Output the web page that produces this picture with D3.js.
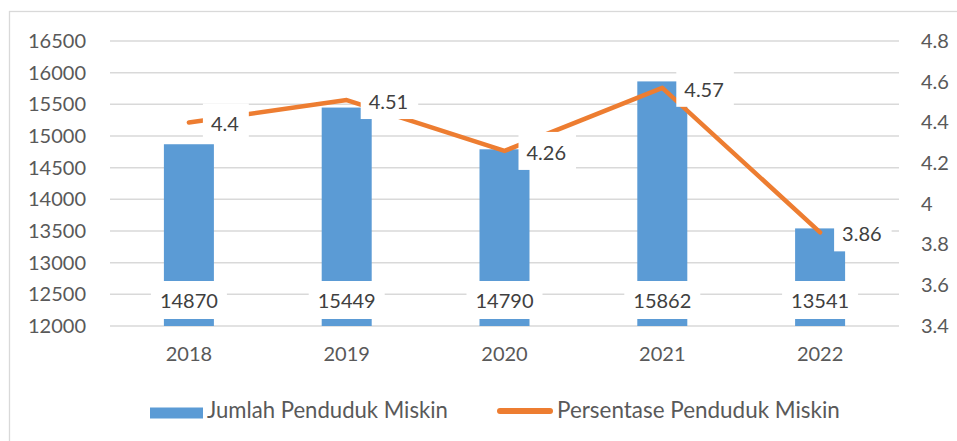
<!DOCTYPE html>
<html><head><meta charset="utf-8">
<script src="https://cdn.jsdelivr.net/npm/d3@7"></script>
<style>
html,body{margin:0;padding:0;background:#fff;}
text{font-family:Lato, "Liberation Sans", sans-serif;}
</style>
</head><body>
<svg id="chart" width="957" height="441"></svg>
<script>
const categories = ["2018","2019","2020","2021","2022"];
const jumlah = [14870, 15449, 14790, 15862, 13541];
const persentase = [4.4, 4.51, 4.26, 4.57, 3.86];
const leftTicks = [12000,12500,13000,13500,14000,14500,15000,15500,16000,16500];
const rightTicks = [3.4,3.6,3.8,4.0,4.2,4.4,4.6,4.8];
const seriesNames = ["Jumlah Penduduk Miskin","Persentase Penduduk Miskin"];

const svg = d3.select("#chart");
const W = 957, H = 441;
const plot = {left:110, right:899, top:41, bottom:326};
const textColor = "#595959";
const barColor = "#5B9BD5", lineColor = "#ED7D31", gridColor = "#d9d9d9";
const fs = 20;

svg.append("rect").attr("width",W).attr("height",H).attr("fill","#fff");
// chart border (cropped at right and bottom)
svg.append("rect").attr("x",9.5).attr("y",11.5).attr("width",W).attr("height",H)
  .attr("fill","none").attr("stroke",gridColor).attr("stroke-width",1.3);

const x = d3.scaleBand().domain(categories).range([plot.left, plot.right]).paddingInner(0).paddingOuter(0);
const yL = d3.scaleLinear().domain([12000,16500]).range([plot.bottom, plot.top]);
const yR = d3.scaleLinear().domain([3.4,4.8]).range([plot.bottom, plot.top]);

// gridlines
svg.append("g").selectAll("line").data(leftTicks).join("line")
  .attr("x1",plot.left).attr("x2",plot.right)
  .attr("y1",d=>yL(d)).attr("y2",d=>yL(d))
  .attr("stroke",gridColor).attr("stroke-width",1.5);

// left axis
const gl = svg.append("g").attr("transform",`translate(${plot.left},0)`)
  .call(d3.axisLeft(yL).tickValues(leftTicks).tickSize(0).tickPadding(24).tickFormat(d3.format("d")));
gl.select(".domain").remove();
gl.selectAll("text").attr("fill",textColor).style("font-size",fs+"px").style("font-family","Lato");

// right axis
const gr = svg.append("g").attr("transform",`translate(${plot.right},0)`)
  .call(d3.axisRight(yR).tickValues(rightTicks).tickSize(0).tickPadding(22).tickFormat(d=>String(+d.toFixed(1))));
gr.select(".domain").remove();
gr.selectAll("text").attr("fill",textColor).style("font-size",fs+"px").style("font-family","Lato");

// bottom axis
const gb = svg.append("g").attr("transform",`translate(0,${plot.bottom})`)
  .call(d3.axisBottom(x).tickSize(0).tickPadding(21));
gb.select(".domain").remove();
gb.selectAll("text").attr("fill",textColor).style("font-size",fs+"px").style("font-family","Lato");

// bars
const bw = 50;
svg.append("g").selectAll("rect").data(jumlah).join("rect")
  .attr("x",(d,i)=>x(categories[i])+x.bandwidth()/2-bw/2)
  .attr("width",bw)
  .attr("y",d=>yL(d)).attr("height",d=>plot.bottom-yL(d))
  .attr("fill",barColor);

// line
const line = d3.line().x((d,i)=>x(categories[i])+x.bandwidth()/2).y(d=>yR(d));
svg.append("path").datum(persentase).attr("d",line)
  .attr("fill","none").attr("stroke",lineColor).attr("stroke-width",4.5)
  .attr("stroke-linejoin","round").attr("stroke-linecap","round");

// bar labels (inside base, white box)
const bl = svg.append("g");
jumlah.forEach((v,i)=>{
  const cx = x(categories[i])+x.bandwidth()/2;
  const g = bl.append("g");
  const r = g.append("rect").attr("fill","#fff");
  const t = g.append("text").text(d3.format("d")(v)).attr("x",cx).attr("y",300)
    .attr("text-anchor","middle").attr("dominant-baseline","central")
    .attr("fill","#404040").style("font-size",fs+"px");
  const w = t.node().getComputedTextLength();
  r.attr("x",cx-w/2-9).attr("width",w+18).attr("y",281).attr("height",38);
});

// line labels (right, white box)
const ll = svg.append("g");
persentase.forEach((v,i)=>{
  const px = x(categories[i])+x.bandwidth()/2, py = yR(v);
  const g = ll.append("g");
  const r = g.append("rect").attr("fill","#fff");
  const t = g.append("text").text(String(v)).attr("x",px+14+8).attr("y",py+1)
    .attr("dominant-baseline","central").attr("fill","#404040").style("font-size",fs+"px");
  const w = t.node().getComputedTextLength();
  r.attr("x",px+14).attr("width",w+18).attr("y",py-19).attr("height",38);
});

// legend
function fitText(sel, target){
  const w = sel.node().getComputedTextLength();
  sel.style("font-size",(fs*target/w).toFixed(2)+"px");
}
const lg = svg.append("g");
lg.append("rect").attr("x",150).attr("y",407.5).attr("width",53).attr("height",11).attr("fill",barColor);
const lt1 = lg.append("text").attr("x",207).attr("y",418).text(seriesNames[0]).attr("fill",textColor).style("font-size",fs+"px");
fitText(lt1, 241);
lg.append("line").attr("x1",500).attr("x2",550).attr("y1",411).attr("y2",411)
  .attr("stroke",lineColor).attr("stroke-width",6).attr("stroke-linecap","round");
const lt2 = lg.append("text").attr("x",557).attr("y",418).text(seriesNames[1]).attr("fill",textColor).style("font-size",fs+"px");
fitText(lt2, 283);
</script>
</body></html>
